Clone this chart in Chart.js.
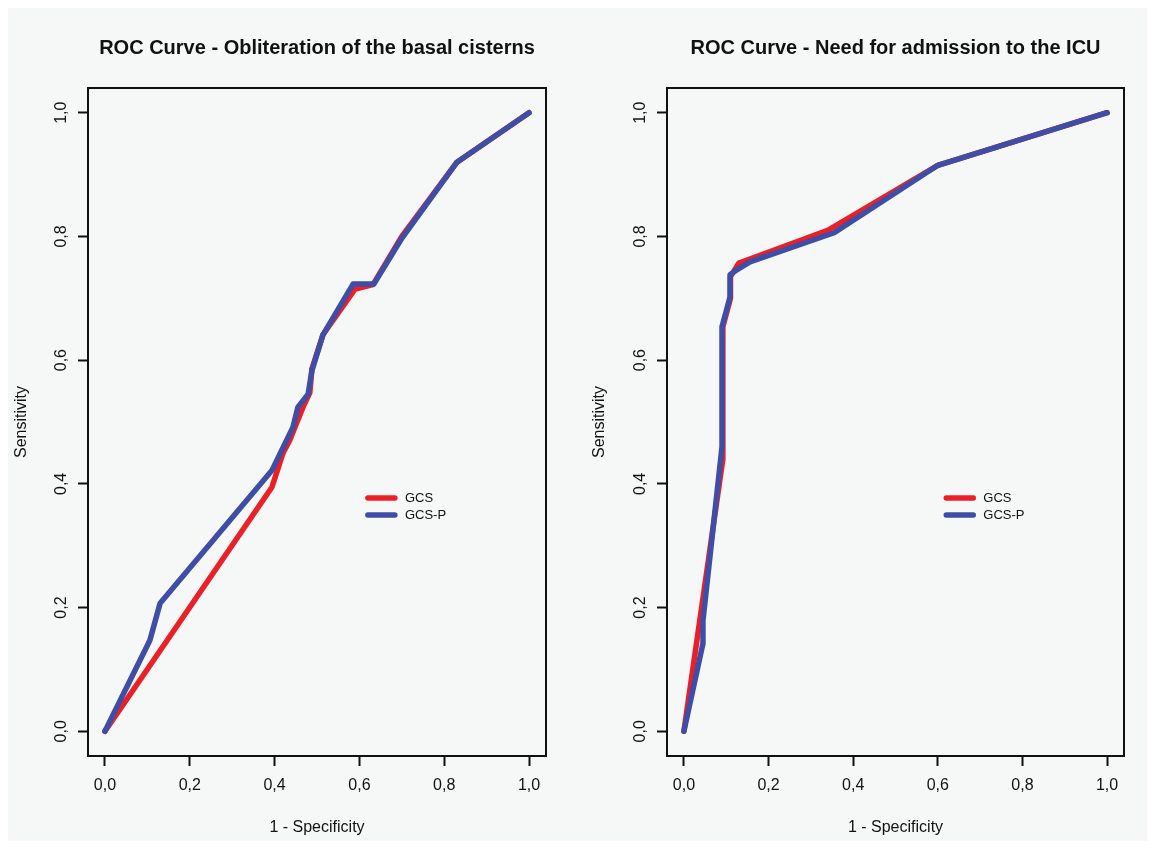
<!DOCTYPE html>
<html>
<head>
<meta charset="utf-8">
<title>ROC curves</title>
<script src="https://cdn.jsdelivr.net/npm/chart.js@4/dist/chart.umd.min.js"></script>
<style>
  html, body { margin: 0; padding: 0; background: #ffffff; }
  #panel {
    position: absolute; left: 8px; top: 8px;
    width: 1139px; height: 833px;
    background: #f6f7f7;
  }
  .cell { position: absolute; top: 0; height: 849px; }
  #cellLeft  { left: 0;     width: 578px; }
  #cellRight { left: 578px; width: 577px; }
</style>
</head>
<body>
<div id="panel"></div>
<div class="cell" id="cellLeft"><canvas id="rocCisterns"></canvas></div>
<div class="cell" id="cellRight"><canvas id="rocIcu"></canvas></div>

<script>
'use strict';

/* ── DATA ── */
const SERIES_NAMES = ['GCS', 'GCS-P'];
const AXIS_TICKS   = [0, 0.2, 0.4, 0.6, 0.8, 1.0];

// Obliteration of the basal cisterns
const CIST_GCS_FPR  = [0, 0.394, 0.420, 0.436, 0.467, 0.483, 0.488, 0.514, 0.590, 0.632, 0.700, 0.830, 1];
const CIST_GCS_TPR  = [0, 0.395, 0.450, 0.471, 0.524, 0.547, 0.586, 0.641, 0.715, 0.722, 0.800, 0.920, 1];
const CIST_GCSP_FPR = [0, 0.106, 0.130, 0.394, 0.443, 0.455, 0.479, 0.488, 0.514, 0.585, 0.634, 0.700, 0.830, 1];
const CIST_GCSP_TPR = [0, 0.147, 0.207, 0.422, 0.491, 0.524, 0.545, 0.583, 0.641, 0.723, 0.723, 0.797, 0.920, 1];

// Need for admission to the ICU
const ICU_GCS_FPR  = [0, 0.092, 0.092, 0.110, 0.110, 0.130, 0.340, 0.600, 1];
const ICU_GCS_TPR  = [0, 0.440, 0.654, 0.700, 0.735, 0.757, 0.810, 0.915, 1];
const ICU_GCSP_FPR = [0, 0.045, 0.045, 0.090, 0.090, 0.109, 0.109, 0.125, 0.156, 0.355, 0.600, 1];
const ICU_GCSP_TPR = [0, 0.142, 0.179, 0.460, 0.654, 0.702, 0.738, 0.746, 0.759, 0.806, 0.915, 1];

/* ── STYLE ── */
const COLORS = { gcs: '#ec1f27', gcsp: '#3e4ea6', ink: '#111111' };
const FONT   = "'Liberation Sans', Arial, Helvetica, sans-serif";

const toPoints = (xs, ys) => xs.map((x, i) => ({ x, y: ys[i] }));
const commaLabel = v => Number(v).toFixed(1).replace('.', ',');

// R-style frame around the plotting region
const framePlugin = {
  id: 'frame',
  afterDraw(chart) {
    const { ctx, chartArea: a } = chart;
    ctx.save();
    ctx.strokeStyle = COLORS.ink;
    ctx.lineWidth = 2;
    ctx.strokeRect(a.left, a.top, a.right - a.left, a.bottom - a.top);
    ctx.restore();
  }
};

// main title, centred over the plotting region
const headingPlugin = {
  id: 'heading',
  afterDraw(chart, args, opts) {
    const { ctx, chartArea: a } = chart;
    ctx.save();
    ctx.fillStyle = COLORS.ink;
    ctx.font = `bold 20px ${FONT}`;
    ctx.textAlign = 'center';
    ctx.textBaseline = 'middle';
    ctx.fillText(opts.text, (a.left + a.right) / 2, opts.y);
    ctx.restore();
  }
};

// boxless legend placed at a data position, like legend(x, y, ..., bty = "n")
const innerLegendPlugin = {
  id: 'innerLegend',
  afterDraw(chart, args, opts) {
    const { ctx, scales: { x, y } } = chart;
    const x0 = x.getPixelForValue(opts.at[0]);
    let   y0 = y.getPixelForValue(opts.at[1]);
    ctx.save();
    ctx.font = `13px ${FONT}`;
    ctx.textBaseline = 'middle';
    ctx.lineCap = 'round';
    chart.data.datasets.forEach(ds => {
      ctx.strokeStyle = ds.borderColor;
      ctx.lineWidth = 5.5;
      ctx.beginPath();
      ctx.moveTo(x0, y0);
      ctx.lineTo(x0 + 27, y0);
      ctx.stroke();
      ctx.fillStyle = COLORS.ink;
      ctx.fillText(ds.label, x0 + 37, y0);
      y0 += 17;
    });
    ctx.restore();
  }
};

function axis(pos, titleText, fixedSize) {
  const vertical = pos === 'left';
  return {
    type: 'linear',
    position: pos,
    min: -0.04,
    max: 1.04,
    afterBuildTicks: s => { s.ticks = AXIS_TICKS.map(v => ({ value: v })); },
    afterFit: s => { if (vertical) s.width = fixedSize; else s.height = fixedSize; },
    border: { display: false },
    grid: {
      drawOnChartArea: false,
      drawTicks: true,
      tickLength: 10,
      tickWidth: 2,
      tickColor: COLORS.ink
    },
    ticks: {
      color: COLORS.ink,
      font: { family: FONT, size: 16 },
      padding: vertical ? 5 : 10,
      minRotation: vertical ? 90 : 0,
      maxRotation: vertical ? 90 : 0,
      crossAlign: vertical ? 'center' : 'near',
      callback: commaLabel
    },
    title: {
      display: true,
      text: titleText,
      color: COLORS.ink,
      font: { family: FONT, size: 16 },
      padding: vertical ? { top: 12, bottom: 0 } : { top: 0, bottom: 12 }
    }
  };
}

function rocChart(canvasId, heading, gcsX, gcsY, gcspX, gcspY, yAxisWidth, padRight) {
  // lower `order` is painted last, so GCS-P sits on top of GCS
  const line = (label, xs, ys, color, order) => ({
    label,
    order,
    data: toPoints(xs, ys),
    borderColor: color,
    backgroundColor: color,
    borderWidth: 5.5,
    borderCapStyle: 'round',
    borderJoinStyle: 'round',
    pointRadius: 0,
    tension: 0,
    fill: false
  });

  return new Chart(document.getElementById(canvasId), {
    type: 'line',
    data: {
      datasets: [
        line(SERIES_NAMES[0], gcsX, gcsY, COLORS.gcs, 2),
        line(SERIES_NAMES[1], gcspX, gcspY, COLORS.gcsp, 1)
      ]
    },
    options: {
      responsive: true,
      maintainAspectRatio: false,
      animation: false,
      layout: { padding: { top: 88, right: padRight, bottom: 0, left: 0 } },
      plugins: {
        legend: { display: false },
        tooltip: { enabled: false },
        heading: { text: heading, y: 48 },
        innerLegend: { at: [0.62, 0.377] }
      },
      scales: {
        x: axis('bottom', '1 - Specificity', 93),
        y: axis('left', 'Sensitivity', yAxisWidth)
      }
    },
    plugins: [framePlugin, headingPlugin, innerLegendPlugin]
  });
}

rocChart('rocCisterns', 'ROC Curve - Obliteration of the basal cisterns',
  CIST_GCS_FPR, CIST_GCS_TPR, CIST_GCSP_FPR, CIST_GCSP_TPR, 88, 32);

rocChart('rocIcu', 'ROC Curve - Need for admission to the ICU',
  ICU_GCS_FPR, ICU_GCS_TPR, ICU_GCSP_FPR, ICU_GCSP_TPR, 89, 31);
</script>
</body>
</html>
